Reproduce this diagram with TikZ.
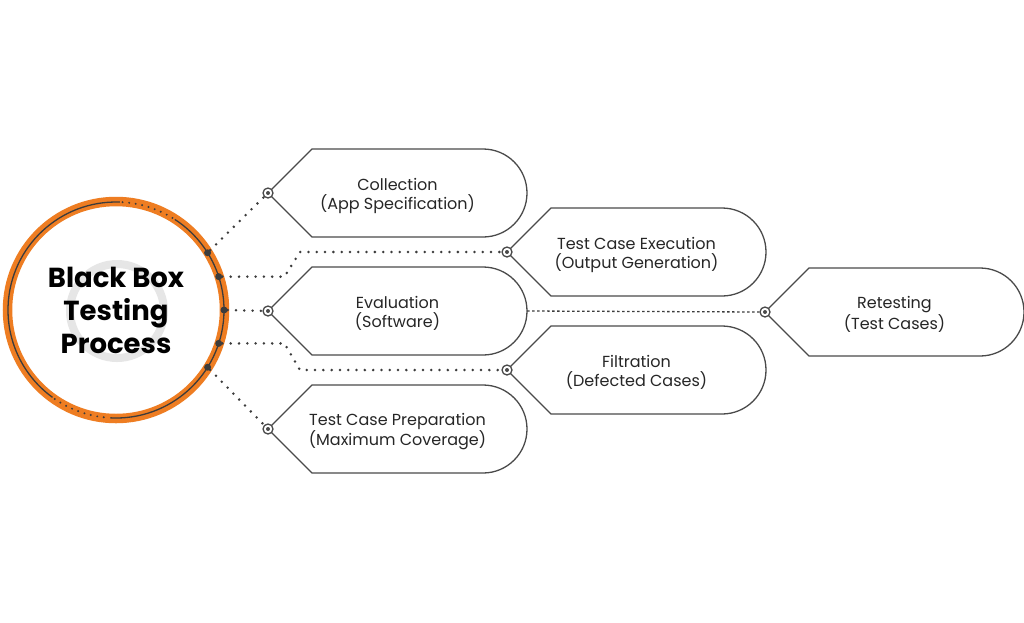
\documentclass[tikz,border=0pt]{standalone}
\usepackage{fontspec}
\setmainfont{Poppins}
\usetikzlibrary{calc}
\begin{document}
\begin{tikzpicture}[x=1pt,y=-1pt,
  tagline/.style={draw=linegray, line width=1.3pt, fill=white, line join=round},
  taglabel/.style={align=center, font=\fontsize{16}{19}\selectfont, text=labeltext, inner sep=0pt},
  marker/.style={circle, draw=linegray, line width=1.3pt, fill=white, minimum size=10pt, inner sep=0pt,
     path picture={\fill[linegray] (path picture bounding box.center) circle[radius=2pt];}},
  ringdot/.style={circle, fill=dotgray, minimum size=7pt, inner sep=0pt},
  conn/.style={draw=dotgray, line width=2.8pt, line cap=round, dash pattern=on 0pt off 8.3pt},
  fineconn/.style={draw=dotgray, line width=1.3pt, dash pattern=on 2.5pt off 2.5pt},
]
\definecolor{ringorange}{HTML}{EE7D22}
\definecolor{linegray}{HTML}{4A4A4A}
\definecolor{dotgray}{HTML}{3C3C3C}
\definecolor{labeltext}{HTML}{262626}
\definecolor{softgray}{HTML}{E6E6E6}

\useasboundingbox[fill=white] (0,0) rectangle (1024,622);

\newcommand{\tagbox}[4]{%
  \draw[tagline] (#2,#3) -- ++(44,-44) -- ++(171,0)
     arc[start angle=90,end angle=-90,radius=44pt] -- ++(-171,0) -- cycle;
  \node[taglabel] (#1) at (#2+129.5,#3+2.5) {#4};
  \coordinate (#1r) at (#2+259,#3);
}

% central circle
\coordinate (c) at (116,310);
\draw[softgray, line width=8pt] (117,311) circle[radius=47pt];
\draw[ringorange, line width=9.5pt] (c) circle[radius=108.5pt];
\draw[dotgray, line width=1.3pt] (c) ++(88:108pt) arc[start angle=88,end angle=234,radius=108pt];
\draw[dotgray, line width=1.3pt] (c) ++(-93:108pt) arc[start angle=-93,end angle=57,radius=108pt];
\foreach \a in {58.5,62,...,86.6} \fill[dotgray] (c) ++(\a:108pt) circle[radius=1.1pt];
\foreach \a in {235.5,239,...,263.6} \fill[dotgray] (c) ++(\a:108pt) circle[radius=1.1pt];
\node[align=center, font=\fontsize{27.5}{33}\selectfont\bfseries, text=black] (title) at (116,310) {Black Box\\Testing\\Process};

% tag shapes
\tagbox{coll}{268}{193}{Collection\\(App Specification)}
\tagbox{exec}{507}{252}{Test Case Execution\\(Output Generation)}
\tagbox{eval}{268}{311}{Evaluation\\(Software)}
\tagbox{retest}{765}{312}{Retesting\\(Test Cases)}
\tagbox{filt}{507}{370}{Filtration\\(Defected Cases)}
\tagbox{prep}{268}{429}{Test Case Preparation\\(Maximum Coverage)}

% ring dots
\node[ringdot] (r1) at ($(c)+(32:108pt)$) {};
\node[ringdot] (r2) at ($(c)+(18:108pt)$) {};
\node[ringdot] (r3) at ($(c)+(0:108pt)$) {};
\node[ringdot] (r4) at ($(c)+(-18:108pt)$) {};
\node[ringdot] (r5) at ($(c)+(-32:108pt)$) {};

% markers
\node[marker] (m1) at (268,193) {};
\node[marker] (m2) at (507,252) {};
\node[marker] (m3) at (268,311) {};
\node[marker] (m4) at (765,312) {};
\node[marker] (m5) at (507,370) {};
\node[marker] (m6) at (268,429) {};

% connectors
\draw[conn] (r1) -- (m1);
\draw[conn] (r2.east) -- ++(62,0) -- (300,252) -- (m2.west);
\draw[conn] (r3) -- (m3);
\draw[conn] (r4.east) -- ++(62,0) -- (300,370) -- (m5.west);
\draw[conn] (r5) -- (m6);
\draw[fineconn] (evalr) -- (m4.west);
\end{tikzpicture}
\end{document}
